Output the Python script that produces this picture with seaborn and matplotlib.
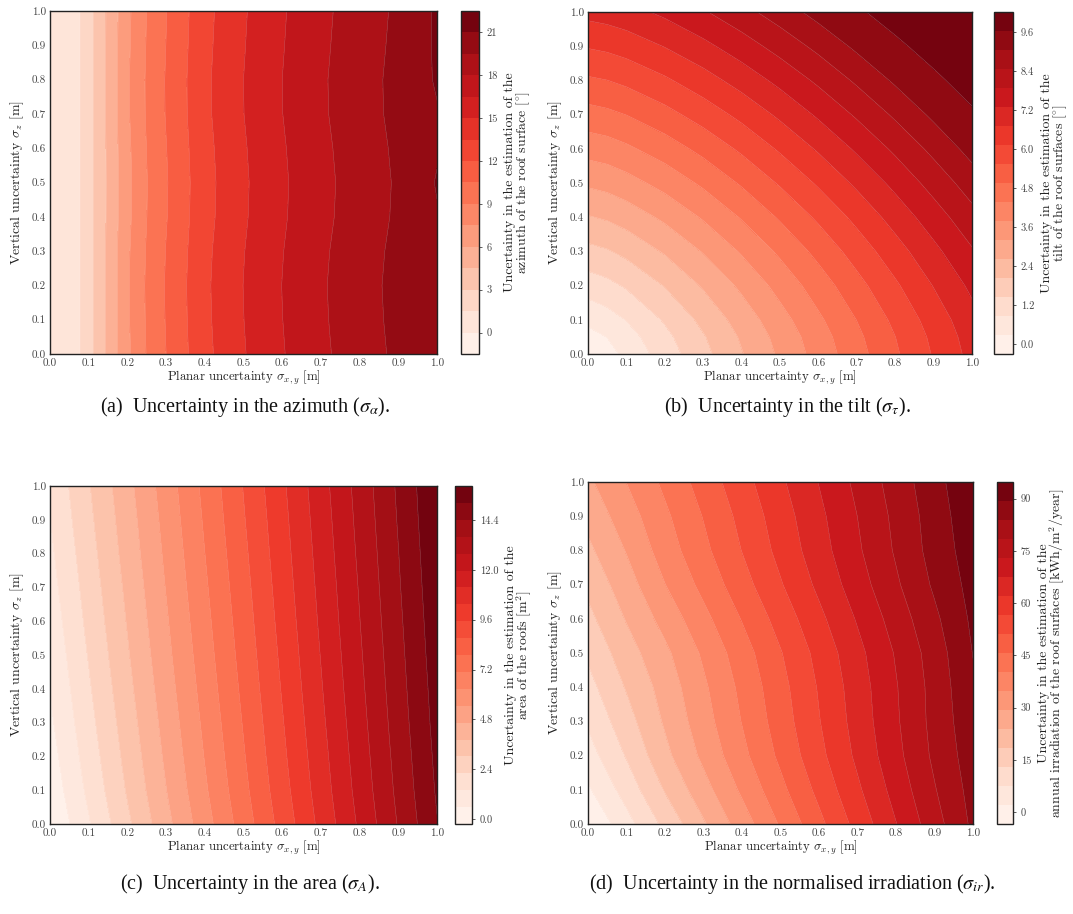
import numpy as np
import matplotlib
matplotlib.use("Agg")
import matplotlib.pyplot as plt
import seaborn as sns

sns.set_theme(style="white")
plt.rcParams['font.family'] = ['cmr10', 'DejaVu Serif']
plt.rcParams['mathtext.fontset'] = 'cm'
plt.rcParams['axes.unicode_minus'] = False
plt.rcParams['axes.formatter.use_mathtext'] = True

# ---------------- data ----------------
y_grid = [0.0, 0.1, 0.2, 0.3, 0.4, 0.5, 0.6, 0.7, 0.8, 0.9, 1.0]

# (a) azimuth uncertainty [deg]
x_az = [0.0, 0.05, 0.1, 0.15, 0.2, 0.25, 0.3, 0.4, 0.5, 0.6, 0.7, 0.8, 0.9, 1.0]
azimuth = [
    [0.1, 0.35, 2.4, 4.77, 7.2, 9.07, 10.5, 13.1, 14.9, 16.4, 17.7, 18.8, 19.8, 20.8],
    [0.1, 0.35, 2.4, 4.80, 7.28, 9.15, 10.58, 13.18, 14.98, 16.48, 17.78, 18.88, 19.88, 20.85],
    [0.1, 0.35, 2.4, 4.82, 7.32, 9.19, 10.62, 13.22, 15.02, 16.52, 17.82, 18.92, 19.92, 20.8],
    [0.1, 0.35, 2.4, 4.79, 7.25, 9.12, 10.55, 13.15, 14.95, 16.45, 17.75, 18.85, 19.85, 20.85],
    [0.1, 0.35, 2.4, 4.74, 7.12, 8.99, 10.42, 13.02, 14.82, 16.32, 17.62, 18.72, 19.72, 20.9],
    [0.1, 0.35, 2.4, 4.72, 7.08, 8.95, 10.38, 12.98, 14.78, 16.28, 17.58, 18.68, 19.68, 21.1],
    [0.1, 0.35, 2.4, 4.75, 7.16, 9.03, 10.46, 13.06, 14.86, 16.36, 17.66, 18.76, 19.76, 20.85],
    [0.1, 0.35, 2.4, 4.80, 7.28, 9.15, 10.58, 13.18, 14.98, 16.48, 17.78, 18.88, 19.88, 20.9],
    [0.1, 0.35, 2.4, 4.81, 7.30, 9.17, 10.60, 13.20, 15.00, 16.50, 17.80, 18.90, 19.90, 21.15],
    [0.1, 0.35, 2.4, 4.78, 7.22, 9.09, 10.52, 13.12, 14.92, 16.42, 17.72, 18.82, 19.82, 21.2],
    [0.1, 0.35, 2.4, 4.75, 7.15, 9.02, 10.45, 13.05, 14.85, 16.35, 17.65, 18.75, 19.75, 21.2],
]

# (b) tilt uncertainty [deg]
x_tilt = [0.0, 0.05, 0.1, 0.2, 0.3, 0.4, 0.5, 0.6, 0.7, 0.8, 0.9, 1.0]
y_tilt = [0.0, 0.05, 0.1, 0.2, 0.3, 0.4, 0.5, 0.6, 0.7, 0.8, 0.9, 1.0]
tilt = [
    [-0.30, 0.06, 0.42, 1.14, 1.86, 2.58, 3.30, 4.02, 4.74, 5.46, 6.18, 6.90],
    [0.06, 0.29, 0.61, 1.29, 1.98, 2.69, 3.40, 4.11, 4.83, 5.54, 6.26, 6.98],
    [0.42, 0.61, 0.88, 1.51, 2.18, 2.87, 3.57, 4.27, 4.97, 5.68, 6.39, 7.10],
    [1.14, 1.29, 1.51, 2.06, 2.68, 3.32, 3.99, 4.66, 5.35, 6.04, 6.74, 7.43],
    [1.86, 1.98, 2.18, 2.68, 3.24, 3.85, 4.48, 5.13, 5.80, 6.47, 7.15, 7.83],
    [2.58, 2.69, 2.87, 3.32, 3.85, 4.42, 5.03, 5.65, 6.29, 6.95, 7.61, 8.28],
    [3.30, 3.40, 3.57, 3.99, 4.48, 5.03, 5.61, 6.21, 6.83, 7.46, 8.11, 8.76],
    [4.02, 4.11, 4.27, 4.66, 5.13, 5.65, 6.21, 6.79, 7.39, 8.00, 8.63, 9.27],
    [4.74, 4.83, 4.97, 5.35, 5.80, 6.29, 6.83, 7.39, 7.97, 8.57, 9.18, 9.60],
    [5.46, 5.54, 5.68, 6.04, 6.47, 6.95, 7.46, 8.00, 8.57, 9.15, 9.58, 9.78],
    [6.18, 6.26, 6.39, 6.74, 7.15, 7.61, 8.11, 8.63, 9.18, 9.58, 9.77, 9.96],
    [6.90, 6.98, 7.10, 7.43, 7.83, 8.28, 8.76, 9.27, 9.60, 9.78, 9.96, 10.15],
]

# (c) area uncertainty [m^2]
x_grid = [0.0, 0.1, 0.2, 0.3, 0.4, 0.5, 0.6, 0.7, 0.8, 0.9, 1.0]
area = [
    [-0.22, 1.30, 2.84, 4.39, 5.93, 7.48, 9.02, 10.57, 12.11, 13.66, 15.20],
    [0.03, 1.56, 3.09, 4.62, 6.15, 7.68, 9.21, 10.74, 12.27, 13.80, 15.33],
    [0.23, 1.75, 3.27, 4.79, 6.31, 7.83, 9.35, 10.86, 12.38, 13.90, 15.42],
    [0.42, 1.93, 3.43, 4.94, 6.45, 7.96, 9.47, 10.98, 12.49, 14.00, 15.51],
    [0.59, 2.09, 3.59, 5.09, 6.59, 8.09, 9.59, 11.09, 12.59, 14.09, 15.58],
    [0.75, 2.25, 3.74, 5.23, 6.72, 8.21, 9.70, 11.19, 12.68, 14.17, 15.66],
    [0.91, 2.40, 3.88, 5.36, 6.84, 8.32, 9.81, 11.29, 12.77, 14.25, 15.73],
    [1.07, 2.54, 4.01, 5.49, 6.96, 8.43, 9.91, 11.38, 12.85, 14.33, 15.80],
    [1.22, 2.68, 4.15, 5.61, 7.08, 8.54, 10.01, 11.47, 12.94, 14.40, 15.87],
    [1.36, 2.82, 4.27, 5.73, 7.19, 8.65, 10.10, 11.56, 13.02, 14.48, 15.94],
    [1.50, 2.95, 4.40, 5.85, 7.30, 8.75, 10.20, 11.65, 13.10, 14.55, 16.00],
]

# (d) normalised irradiation uncertainty [kWh/m^2/year]
irradiation = [
    [-3.30, 5.53, 14.36, 23.19, 32.02, 40.85, 49.68, 58.51, 67.34, 76.17, 85.00],
    [1.30, 9.76, 18.82, 27.28, 35.74, 44.20, 52.66, 61.12, 69.58, 78.04, 85.90],
    [5.20, 13.36, 22.42, 30.58, 38.74, 46.90, 55.06, 63.22, 71.38, 79.54, 86.80],
    [8.30, 16.24, 24.58, 32.52, 40.46, 48.40, 56.34, 64.28, 72.22, 80.16, 87.70],
    [11.10, 18.85, 26.10, 33.85, 41.60, 49.35, 57.10, 64.85, 72.60, 80.35, 88.60],
    [13.90, 21.46, 28.12, 35.68, 43.24, 50.80, 58.36, 65.92, 73.48, 81.04, 89.50],
    [16.90, 24.25, 31.30, 38.65, 46.00, 53.35, 60.70, 68.05, 75.40, 82.75, 90.40],
    [19.80, 26.95, 34.70, 41.85, 49.00, 56.15, 63.30, 70.45, 77.60, 84.75, 91.30],
    [22.70, 29.65, 37.40, 44.35, 51.30, 58.25, 65.20, 72.15, 79.10, 86.05, 92.20],
    [25.50, 32.26, 39.22, 45.98, 52.74, 59.50, 66.26, 73.02, 79.78, 86.54, 93.10],
    [28.30, 34.87, 41.44, 48.01, 54.58, 61.15, 67.72, 74.29, 80.86, 87.43, 94.00],
]

axis_ticks = [0.0, 0.1, 0.2, 0.3, 0.4, 0.5, 0.6, 0.7, 0.8, 0.9, 1.0]
axis_tick_labels = ["0.0", "0.1", "0.2", "0.3", "0.4", "0.5", "0.6", "0.7", "0.8", "0.9", "1.0"]

az_cticks = [0, 3, 6, 9, 12, 15, 18, 21]
tilt_cticks = [0.0, 1.2, 2.4, 3.6, 4.8, 6.0, 7.2, 8.4, 9.6]
area_cticks = [0.0, 2.4, 4.8, 7.2, 9.6, 12.0, 14.4]
irr_cticks = [0, 15, 30, 45, 60, 75, 90]

xlabel = r"Planar uncertainty $\sigma_{x,y}$ [m]"
ylabel = r"Vertical uncertainty $\sigma_z$ [m]"

panels = [
    dict(x=x_az, y=y_grid, z=azimuth, levels=np.linspace(-1.5, 22.5, 17),
         cticks=az_cticks, fmt="{:.0f}",
         clabel="Uncertainty in the estimation of the\nazimuth of the roof surface [$^{\\circ}$]",
         ax=[50, 11, 437, 354], cax=[461, 11, 479, 354],
         caption=r"(a)  Uncertainty in the azimuth ($\sigma_\alpha$).", cap=(245, 407)),
    dict(x=x_tilt, y=y_tilt, z=tilt, levels=np.linspace(-0.31, 10.23, 19),
         cticks=tilt_cticks, fmt="{:.1f}",
         clabel="Uncertainty in the estimation of the\ntilt of the roof surfaces [$^{\\circ}$]",
         ax=[588, 12, 972, 354], cax=[994, 12, 1013, 354],
         caption=r"(b)  Uncertainty in the tilt ($\sigma_\tau$).", cap=(788, 407)),
    dict(x=x_grid, y=y_grid, z=area, levels=np.linspace(-0.25, 16.05, 21),
         cticks=area_cticks, fmt="{:.1f}",
         clabel="Uncertainty in the estimation of the\narea of the roofs [m$^2$]",
         ax=[50, 486, 437, 824], cax=[455, 486, 472, 824],
         caption=r"(c)  Uncertainty in the area ($\sigma_A$).", cap=(250, 884)),
    dict(x=x_grid, y=y_grid, z=irradiation, levels=np.linspace(-3.4, 94.8, 19),
         cticks=irr_cticks, fmt="{:.0f}",
         clabel="Uncertainty in the estimation of the\nannual irradiation of the roof surfaces [kWh/m$^2$/year]",
         ax=[588, 482, 973, 824], cax=[997, 482, 1013, 824],
         caption=r"(d)  Uncertainty in the normalised irradiation ($\sigma_{ir}$).", cap=(792, 884)),
]

W, H = 1073, 914
fig = plt.figure(figsize=(W / 100, H / 100), dpi=100)
cmap = sns.color_palette("Reds", as_cmap=True)


def rect(r):
    x0, y0, x1, y1 = r
    return [x0 / W, 1 - y1 / H, (x1 - x0) / W, (y1 - y0) / H]


for p in panels:
    ax = fig.add_axes(rect(p["ax"]))
    cax = fig.add_axes(rect(p["cax"]))
    X, Y = np.meshgrid(p["x"], p["y"])
    Z = np.array(p["z"])
    cs = ax.contourf(X, Y, Z, levels=p["levels"], cmap=cmap)
    ax.contour(X, Y, Z, levels=p["levels"], colors="white", linewidths=0.3, alpha=0.35)
    ax.set_xlim(0, 1)
    ax.set_ylim(0, 1)
    ax.set_xticks(axis_ticks)
    ax.set_xticklabels(axis_tick_labels)
    ax.set_yticks(axis_ticks)
    ax.set_yticklabels(axis_tick_labels)
    ax.tick_params(labelsize=8, colors="#444444", pad=3, length=0)
    ax.set_xlabel(xlabel, fontsize=9.2, labelpad=1, color="#222222")
    ax.set_ylabel(ylabel, fontsize=10, labelpad=4, color="#222222")
    for s in ax.spines.values():
        s.set_color("#222222")
        s.set_linewidth(1.0)

    cb = fig.colorbar(cs, cax=cax, ticks=p["cticks"])
    cb.ax.set_yticklabels([p["fmt"].format(t) for t in p["cticks"]])
    cb.ax.tick_params(labelsize=7.5, colors="#444444", length=2.5, width=0.6,
                      right=True, direction="out", pad=3)
    cb.outline.set_edgecolor("#222222")
    cb.outline.set_linewidth(1.0)
    cb.set_label(p["clabel"], fontsize=10, color="#222222", labelpad=5,
                 multialignment="center", linespacing=0.85)

    fig.text(p["cap"][0] / W, 1 - p["cap"][1] / H, p["caption"],
             ha="center", va="center", fontsize=14.5,
             fontfamily="Liberation Serif", math_fontfamily="stix", color="#111111")

fig.savefig("out.png", dpi=100)
